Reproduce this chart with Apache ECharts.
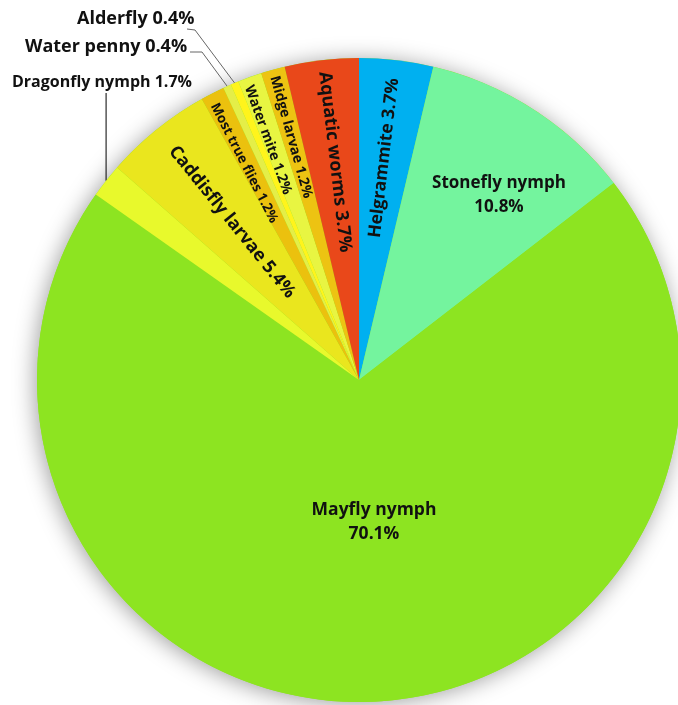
<!DOCTYPE html>
<html>
<head>
<meta charset="utf-8">
<script src="https://cdn.jsdelivr.net/npm/echarts@6/dist/echarts.min.js"></script>
<style>
html,body{margin:0;padding:0;background:#fff;}
#chart{width:678px;height:705px;}
</style>
</head>
<body>
<div id="chart"></div>
<script>
// ---- data ----
const categories = ['Helgrammite', 'Stonefly nymph', 'Mayfly nymph', 'Dragonfly nymph', 'Caddisfly larvae',
  'Most true flies', 'Water penny', 'Alderfly', 'Water mite', 'Midge larvae', 'Aquatic worms'];
const percents = [3.7, 10.8, 70.1, 1.7, 5.4, 1.2, 0.4, 0.4, 1.2, 1.2, 3.7];

// ---- styles / layout (kept apart from data) ----
const sliceColors = ['#00B0F0', '#74F49E', '#8DE421', '#E8F92C', '#EAE61E',
  '#EBC10E', '#E4EE48', '#FFF41C', '#E8F542', '#EDC312', '#E9481A'];
const FONT = 'Open Sans';
const labelStyle = {
  'Helgrammite':      {pos: 'inside', rotate: 'radial', size: 17.5, x: 384, y: 158},
  'Stonefly nymph':   {pos: 'inside', rotate: 0, size: 17, x: 499, y: 195, twoLine: true},
  'Mayfly nymph':     {pos: 'inside', rotate: 0, size: 17.5, x: 374, y: 522, twoLine: true},
  'Dragonfly nymph':  {pos: 'outside', size: 16, x: 12, y: 82, line: 'vertical'},
  'Caddisfly larvae': {pos: 'inside', rotate: 'radial', size: 18, x: 232, y: 222},
  'Most true flies':  {pos: 'inside', rotate: 'radial', size: 13.5, x: 244, y: 163},
  'Water penny':      {pos: 'outside', size: 18, x: 25, y: 47, elbow: [[190, 52], [202, 52]]},
  'Alderfly':         {pos: 'outside', size: 18, x: 77, y: 19, elbow: [[187, 29], [195, 30]]},
  'Water mite':       {pos: 'inside', rotate: 'radial', size: 14, x: 268, y: 140},
  'Midge larvae':     {pos: 'inside', rotate: 'radial', size: 14, x: 291, y: 137},
  'Aquatic worms':    {pos: 'inside', rotate: 'radial', size: 18, x: 335, y: 162}
};

const pieData = categories.map((name, i) => {
  const s = labelStyle[name];
  const outside = s.pos === 'outside';
  return {
    name: name,
    value: percents[i],
    itemStyle: {color: sliceColors[i]},
    label: {
      show: true,
      position: outside ? 'outside' : 'inside',
      rotate: outside ? 0 : s.rotate,
      fontSize: s.size,
      formatter: s.twoLine ? '{b}\n{c}%' : '{b} {c}%',
      lineHeight: s.twoLine ? 24 : undefined
    },
    labelLine: {show: outside, lineStyle: {color: outside && s.line ? '#000' : '#666', width: 1}}
  };
});

const chart = echarts.init(document.getElementById('chart'), null, {renderer: 'canvas'});
chart.setOption({
  animation: false,
  backgroundColor: '#ffffff',
  series: [
    {
      type: 'pie',
      silent: true,
      z: 1,
      center: [359, 380],
      radius: 322,
      label: {show: false},
      labelLine: {show: false},
      itemStyle: {color: '#8DE421', shadowBlur: 22, shadowColor: 'rgba(0,0,0,0.38)', shadowOffsetX: -2, shadowOffsetY: 2},
      data: [{value: 1, name: 'shadow'}]
    },
    {
      type: 'pie',
      z: 2,
      center: [359, 380],
      radius: 322,
      startAngle: 90,
      clockwise: true,
      avoidLabelOverlap: false,
      itemStyle: {borderWidth: 0},
      label: {color: '#111', fontFamily: FONT, fontWeight: 'bold'},
      labelLine: {smooth: false},
      data: pieData,
      labelLayout: function (params) {
        const name = categories[params.dataIndex];
        const s = labelStyle[name];
        const out = {x: s.x, y: s.y, verticalAlign: 'middle'};
        if (s.pos === 'outside') {
          out.align = 'left';
          const p0 = params.labelLinePoints ? params.labelLinePoints[0] : null;
          if (p0) {
            if (s.line === 'vertical') {
              out.labelLinePoints = [[p0[0], p0[1]], [p0[0], s.y + 11]];
            } else if (s.elbow) {
              out.labelLinePoints = [[p0[0], p0[1]], s.elbow[1], s.elbow[0]];
            }
          }
        } else {
          out.align = 'center';
        }
        return out;
      }
    }
  ]
});
</script>
</body>
</html>
